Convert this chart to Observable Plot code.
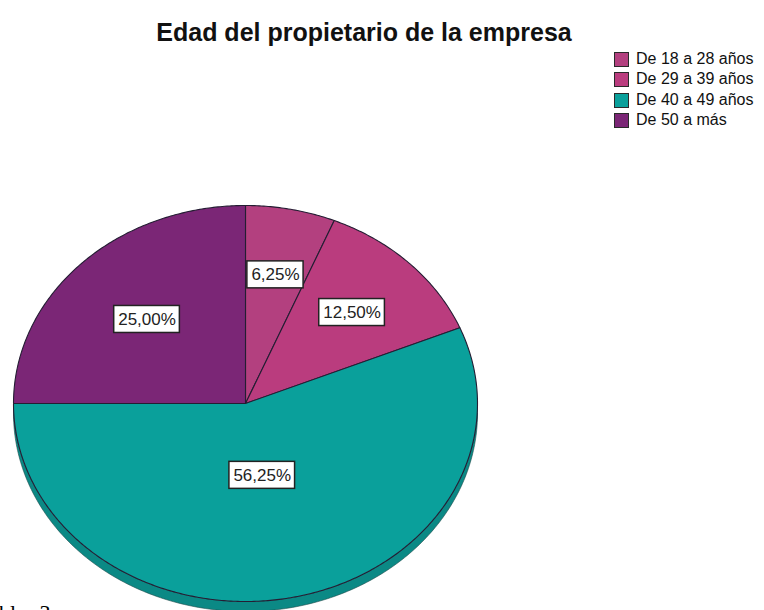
<!DOCTYPE html>
<html>
<head>
<meta charset="utf-8">
<script src="https://cdn.jsdelivr.net/npm/d3@7"></script>
<script src="https://cdn.jsdelivr.net/npm/@observablehq/plot@0.6"></script>
<style>
  html, body { margin: 0; padding: 0; background: #fff; overflow: hidden; }
  #wrap { position: relative; width: 764px; height: 610px; overflow: hidden; font-family: "Liberation Sans", Arial, sans-serif; }
  #chart { position: absolute; left: 0; top: 0; }
  #title { position: absolute; left: 0; width: 728px; top: 20px; text-align: center; font-weight: bold; font-size: 25px; line-height: 25px; color: #111; white-space: nowrap; }
  #legend { position: absolute; left: 614px; top: 52px; }
  .item { position: relative; height: 20.3px; white-space: nowrap; }
  .sw { position: absolute; left: 0; top: 0; width: 13px; height: 13px; border: 1px solid #2a2a2a; }
  .lab { position: absolute; left: 22px; top: -1px; font-size: 16px; line-height: 16px; color: #111; }
  #foot { position: absolute; left: -1px; top: 602px; font-family: "Liberation Serif", "Times New Roman", serif; font-size: 22px; line-height: 22px; color: #000; word-spacing: 8px; white-space: nowrap; }
</style>
</head>
<body>
<div id="wrap">
  <div id="chart"></div>
  <div id="title"></div>
  <div id="legend"></div>
  <div id="foot"></div>
</div>
<script>
const title = "Edad del propietario de la empresa";
const categories = ["De 18 a 28 años", "De 29 a 39 años", "De 40 a 49 años", "De 50 a más"];
const values = [6.25, 12.5, 56.25, 25];
const valueLabels = ["6,25%", "12,50%", "56,25%", "25,00%"];
const colors = ["#b3407f", "#ba3c7e", "#0aa09b", "#7b2676"];
const sideColor = "#0b8985";
const footText = "bla 3";

const W = 764, H = 610;
const xRange = [13, 477], yRange = [601, 205];
const kx = (xRange[1] - xRange[0]) / 2, ky = (yRange[0] - yRange[1]) / 2;
const depthPx = 10;

const arcs = d3.pie().sort(null).value(d => d)(values);

function slicePoints(a) {
  const n = Math.max(10, Math.ceil((a.endAngle - a.startAngle) / 0.01));
  const p = [{x: 0, y: 0}];
  for (let j = 0; j <= n; j++) {
    const t = a.startAngle + (a.endAngle - a.startAngle) * j / n;
    p.push({x: Math.sin(t), y: Math.cos(t)});
  }
  p.push({x: 0, y: 0});
  return p;
}

// 3D side band (bottom half)
const dOff = depthPx / ky;
const side = [];
for (let j = 0; j <= 200; j++) {
  const t = Math.PI / 2 + Math.PI * j / 200;
  side.push({x: Math.sin(t), y: Math.cos(t) - dOff});
}
for (let j = 200; j >= 0; j--) {
  const t = Math.PI / 2 + Math.PI * j / 200;
  side.push({x: Math.sin(t), y: Math.cos(t)});
}

// label positions at sector centroids
const ctx = document.createElement("canvas").getContext("2d");
ctx.font = "17px 'Liberation Sans', Arial";
const labels = arcs.map((a, i) => {
  const h = (a.endAngle - a.startAngle) / 2;
  const mid = (a.startAngle + a.endAngle) / 2;
  const c = (2 / 3) * Math.sin(h) / h;
  const x = c * Math.sin(mid), y = c * Math.cos(mid);
  const w = ctx.measureText(valueLabels[i]).width + 8;
  const hh = 27;
  return {x, y, text: valueLabels[i], x1: x - w / 2 / kx, x2: x + w / 2 / kx, y1: y - hh / 2 / ky, y2: y + hh / 2 / ky};
});

const marks = [
  Plot.line(side, {x: "x", y: "y", fill: sideColor, stroke: "#1f4a4a", strokeWidth: 0.6, curve: "linear"}),
  ...arcs.map((a, i) => Plot.line(slicePoints(a), {x: "x", y: "y", fill: colors[i], stroke: "#241d33", strokeWidth: 1.1, strokeLinejoin: "round", curve: "linear"})),
  Plot.rect(labels, {x1: "x1", x2: "x2", y1: "y1", y2: "y2", fill: "#fff", stroke: "#222", strokeWidth: 1.5}),
  Plot.text(labels, {x: "x", y: "y", text: "text", fontSize: 17, fontFamily: "'Liberation Sans', Arial, sans-serif", fill: "#222"})
];

const chart = Plot.plot({
  width: W, height: H,
  margin: 0,
  x: {domain: [-1, 1], range: xRange, axis: null},
  y: {domain: [-1, 1], range: yRange, axis: null},
  style: {background: "transparent", overflow: "visible"},
  marks
});
document.getElementById("chart").appendChild(chart);

document.getElementById("title").textContent = title;
document.getElementById("foot").textContent = footText;
const leg = document.getElementById("legend");
categories.forEach((c, i) => {
  const it = document.createElement("div");
  it.className = "item";
  const sw = document.createElement("div");
  sw.className = "sw";
  sw.style.background = colors[i];
  const lb = document.createElement("div");
  lb.className = "lab";
  lb.textContent = c;
  it.appendChild(sw); it.appendChild(lb);
  leg.appendChild(it);
});
</script>
</body>
</html>
